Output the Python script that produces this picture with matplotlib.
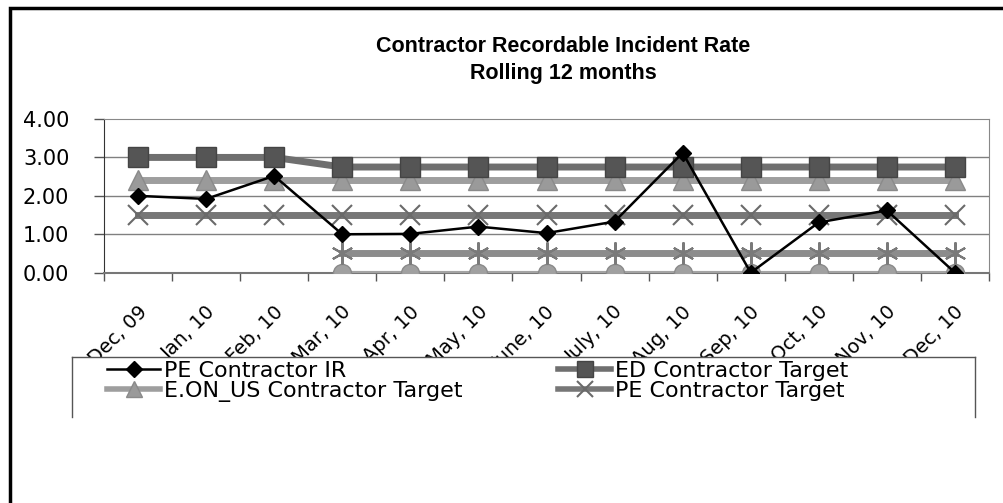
import numpy as np
import matplotlib
matplotlib.use("Agg")
import matplotlib.pyplot as plt
from matplotlib.patches import Rectangle
from matplotlib.lines import Line2D
from matplotlib.transforms import ScaledTranslation

plt.rcParams['font.family'] = ['DejaVu Sans']

months = ['Dec, 09', 'Jan, 10', 'Feb, 10', 'Mar, 10', 'Apr, 10', 'May, 10', 'June, 10',
          'July, 10', 'Aug, 10', 'Sep, 10', 'Oct, 10', 'Nov, 10', 'Dec, 10']
pe_ir = [2.0, 1.92, 2.52, 1.0, 1.01, 1.2, 1.03, 1.33, 3.12, 0.0, 1.31, 1.62, 0.0]
ed_target = [3.0, 3.0, 3.0, 2.75, 2.75, 2.75, 2.75, 2.75, 2.75, 2.75, 2.75, 2.75, 2.75]
eon_target = [2.4] * 13
pe_target = [1.5] * 13
star_series = [np.nan] * 3 + [0.5] * 10
circle_series = [np.nan] * 3 + [0.0] * 10
yticks = [0, 1, 2, 3, 4]

W, H = 1004, 503
fig = plt.figure(figsize=(W / 100, H / 100), dpi=100)
ax = fig.add_axes([104 / W, 1 - 272.7 / H, 885 / W, 153.7 / H])

x = np.arange(len(months))

# target lines (thick textured grey in the original)
ax.plot(x, circle_series, color='#a3a3a3', lw=3, marker='o', ms=13,
        mfc='#a0a0a0', mec='#8a8a8a', zorder=3)
ax.plot(x, star_series, color='#8c8c8c', lw=5, marker=(6, 2, 0), ms=16,
        mec='#7a7a7a', mew=1.5, zorder=3)
ax.plot(x, pe_target, color='#777777', lw=5, marker='x', ms=15,
        mec='#6a6a6a', mew=1.5, zorder=3)
ax.plot(x, eon_target, color='#9e9e9e', lw=5, marker='^', ms=14,
        mfc='#9a9a9a', mec='#8a8a8a', zorder=3)
ax.plot(x, ed_target, color='#6f6f6f', lw=5, marker='s', ms=14,
        mfc='#555555', mec='#444444', zorder=3)
ax.plot(x, pe_ir, color='black', lw=1.8, marker='D', ms=8,
        mfc='black', mec='black', zorder=4)

ax.set_xlim(-0.5, len(months) - 0.5)
ax.set_ylim(0, 4)
ax.set_yticks(yticks)
ax.set_yticklabels(['%.2f' % v for v in yticks], fontsize=15)
ax.tick_params(axis='y', length=7, width=1, color='#555555', pad=18)

ax.set_xticks(np.arange(len(months) + 1) - 0.5)
ax.set_xticklabels([])
ax.tick_params(axis='x', which='major', length=6, width=1, color='#555555')
ax.set_xticks(x, minor=True)
ax.set_xticklabels(months, minor=True, rotation=45, ha='right', va='center',
                   rotation_mode='anchor', fontsize=14)
ax.tick_params(axis='x', which='minor', length=0, pad=26)
for lab in ax.get_xticklabels(minor=True):
    lab.set_transform(lab.get_transform() + ScaledTranslation(0.06, 0, fig.dpi_scale_trans))

for v in [1, 2, 3]:
    ax.axhline(v, color='#808080', lw=1, zorder=1)
ax.spines['top'].set_color('#888888')
ax.spines['top'].set_linestyle((0, (2, 1)))
ax.spines['bottom'].set_color('#777777')
ax.spines['bottom'].set_linestyle((0, (2, 1)))
ax.spines['bottom'].set_linewidth(1.5)
ax.spines['right'].set_color('#888888')
ax.spines['left'].set_color('#333333')

fig.text(563 / W, 1 - 60 / H, 'Contractor Recordable Incident Rate\nRolling 12 months',
         ha='center', va='center', fontsize=15.5, fontweight='bold',
         family=['Liberation Sans'], linespacing=1.35)

# legend box (bottom clipped in the original)
fig.patches.append(Rectangle((72 / W, 0), 903 / W, 1 - 357 / H, transform=fig.transFigure,
                             facecolor='white', edgecolor='none', zorder=3))
for xs, ys in [([72, 975], [357, 357]), ([72, 72], [357, 417]), ([975, 975], [357, 417])]:
    fig.lines.append(Line2D([v / W for v in xs], [1 - v / H for v in ys],
                            transform=fig.transFigure, color='#555555', lw=1, zorder=4))

h_ir = Line2D([], [], color='black', lw=1.8, marker='D', ms=8)
h_eon = Line2D([], [], color='#9e9e9e', lw=4, marker='^', ms=11, mfc='#9a9a9a', mec='#8a8a8a')
h_ed = Line2D([], [], color='#6f6f6f', lw=4, marker='s', ms=11, mfc='#555555', mec='#444444')
h_pe = Line2D([], [], color='#777777', lw=4, marker='x', ms=12, mec='#6a6a6a', mew=1.5)
leg_kw = dict(loc='upper left', frameon=False, fontsize=16, handlelength=2.4,
              handletextpad=0.15, labelspacing=0.0, borderpad=0, borderaxespad=0)
fig.legend([h_ir, h_eon], ['PE Contractor IR', 'E.ON_US Contractor Target'],
           bbox_to_anchor=(107 / W, 1 - 361 / H), **leg_kw)
fig.legend([h_ed, h_pe], ['ED Contractor Target', 'PE Contractor Target'],
           bbox_to_anchor=(558 / W, 1 - 361 / H), **leg_kw)

# outer border
fig.patches.append(Rectangle((10 / W, -0.1), 1.2, 1 - 8 / H + 0.1, transform=fig.transFigure,
                             facecolor='none', edgecolor='black', lw=2.5, zorder=5))

fig.savefig('out.png', dpi=100)
